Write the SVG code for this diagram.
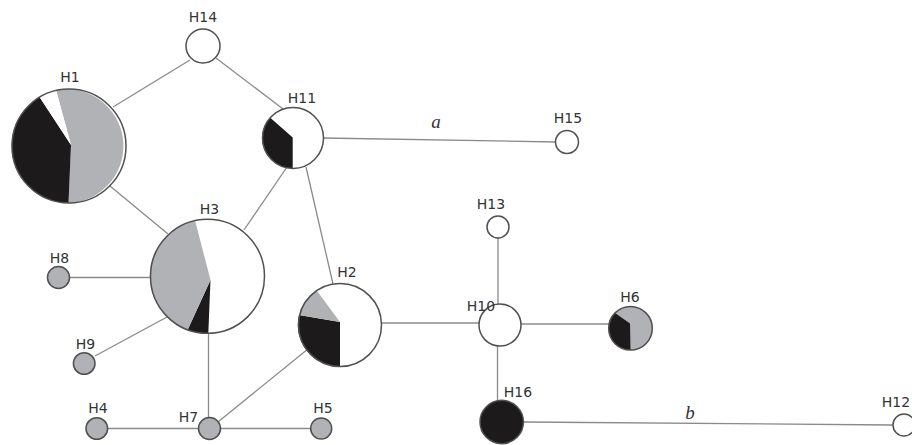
<svg xmlns="http://www.w3.org/2000/svg" width="912" height="445" viewBox="0 0 912 445">
<style>
.ln{stroke:#8a8a8a;stroke-width:1.3;fill:none}
.ol{fill:none;stroke:#505050;stroke-width:1.5}
.w{fill:#ffffff}
.g{fill:#b1b2b5}
.k{fill:#1d1a1b}
.lb{font-family:"DejaVu Sans",Verdana,sans-serif;font-size:14px;fill:#333;text-anchor:middle}
.it{font-family:"Liberation Serif","Times New Roman",serif;font-style:italic;font-size:19px;fill:#333;text-anchor:middle}
</style>
<rect width="912" height="445" fill="#ffffff"/>
<g id="connectors">
<line class="ln" x1="113" y1="107" x2="190" y2="60"/>
<line class="ln" x1="216" y1="58" x2="283" y2="109"/>
<line class="ln" x1="110" y1="186" x2="168" y2="234"/>
<line class="ln" x1="287" y1="167" x2="244" y2="230"/>
<line class="ln" x1="306" y1="167" x2="333" y2="284"/>
<line class="ln" x1="323" y1="138" x2="556" y2="142"/>
<line class="ln" x1="69" y1="277.5" x2="151" y2="277.5"/>
<line class="ln" x1="95" y1="356" x2="167" y2="317"/>
<line class="ln" x1="208.5" y1="333" x2="208.5" y2="417"/>
<line class="ln" x1="216.7" y1="423" x2="307" y2="349.7"/>
<line class="ln" x1="381" y1="323" x2="479" y2="323"/>
<line class="ln" x1="498" y1="238" x2="498" y2="304"/>
<line class="ln" x1="521" y1="324" x2="609" y2="324"/>
<line class="ln" x1="497.5" y1="346" x2="497.5" y2="400"/>
<line class="ln" x1="523" y1="422" x2="893" y2="425"/>
<line class="ln" x1="107.5" y1="428.5" x2="198.5" y2="428.5"/>
<line class="ln" x1="220.5" y1="428.5" x2="310.5" y2="428.5"/>
<text class="it" x="436" y="128">a</text>
<text class="it" x="690" y="419">b</text>
</g>
<g id="H1">
<path class="g" d="M71 145 L56 90 A57 57 0 1 1 68.5 203 Z"/>
<path class="k" d="M71 145 L68.5 203 A57 57 0 0 1 39.5 97 Z"/>
<path class="w" d="M71 145 L39.5 97 A57 57 0 0 1 56 90 Z"/>
<circle class="ol" cx="69" cy="146" r="57"/>
<text class="lb" x="70" y="82">H1</text>
</g>
<g id="H14">
<circle class="w" cx="203" cy="46" r="17"/>
<circle class="ol" cx="203" cy="46" r="17"/>
<text class="lb" x="203" y="22">H14</text>
</g>
<g id="H11">
<circle class="w" cx="293" cy="138" r="30.5"/>
<path class="k" d="M292.7 137.5 L292.7 168.5 A30.5 30.5 0 0 1 270 117.6 Z"/>
<circle class="ol" cx="293" cy="138" r="30.5"/>
<text class="lb" x="302" y="103">H11</text>
</g>
<g id="H15">
<circle class="w" cx="567" cy="142" r="11.5"/>
<circle class="ol" cx="567" cy="142" r="11.5"/>
<text class="lb" x="568" y="123">H15</text>
</g>
<g id="H3">
<path class="w" d="M210.5 280 L195 220.3 A57 57 0 1 1 208.3 333.3 Z"/>
<path class="k" d="M210.5 280 L208.3 333.3 A57 57 0 0 1 187.7 329.8 Z"/>
<path class="g" d="M210.5 280 L187.7 329.8 A57 57 0 0 1 195 220.3 Z"/>
<circle class="ol" cx="207.5" cy="276.3" r="57"/>
<text class="lb" x="209.5" y="214">H3</text>
</g>
<g id="H8">
<circle class="g" cx="58.5" cy="277.5" r="11"/>
<circle class="ol" cx="58.5" cy="277.5" r="11"/>
<text class="lb" x="59.5" y="263">H8</text>
</g>
<g id="H9">
<circle class="g" cx="84.2" cy="363.5" r="10.8"/>
<circle class="ol" cx="84.2" cy="363.5" r="10.8"/>
<text class="lb" x="85.5" y="349">H9</text>
</g>
<g id="H2">
<path class="w" d="M340 322 L316.7 290.6 A41.5 41.5 0 1 1 340 366.5 Z"/>
<path class="k" d="M340 322 L340 366.5 A41.5 41.5 0 0 1 299 315 Z"/>
<path class="g" d="M340 322 L299 315 A41.5 41.5 0 0 1 316.7 290.6 Z"/>
<circle class="ol" cx="340" cy="325" r="41.5"/>
<text class="lb" x="347" y="277">H2</text>
</g>
<g id="H4">
<circle class="g" cx="96.8" cy="428.5" r="10.8"/>
<circle class="ol" cx="96.8" cy="428.5" r="10.8"/>
<text class="lb" x="98" y="413">H4</text>
</g>
<g id="H7">
<circle class="g" cx="209.5" cy="428.5" r="11"/>
<circle class="ol" cx="209.5" cy="428.5" r="11"/>
<text class="lb" x="188.5" y="421.5">H7</text>
</g>
<g id="H5">
<circle class="g" cx="321.2" cy="428.5" r="10.5"/>
<circle class="ol" cx="321.2" cy="428.5" r="10.5"/>
<text class="lb" x="323" y="413">H5</text>
</g>
<g id="H13">
<circle class="w" cx="498" cy="227" r="11"/>
<circle class="ol" cx="498" cy="227" r="11"/>
<text class="lb" x="491" y="209">H13</text>
</g>
<g id="H10">
<circle class="w" cx="500" cy="325" r="21"/>
<circle class="ol" cx="500" cy="325" r="21"/>
<text class="lb" x="481" y="311">H10</text>
</g>
<g id="H6">
<circle class="g" cx="630.5" cy="328.3" r="21.8"/>
<path class="k" d="M630 323.5 L630.5 350.1 A21.8 21.8 0 0 1 615 313 Z"/>
<circle class="ol" cx="630.5" cy="328.3" r="21.8"/>
<text class="lb" x="630" y="302">H6</text>
</g>
<g id="H16">
<circle class="k" cx="501.7" cy="422" r="21.7"/>
<circle class="ol" cx="501.7" cy="422" r="21.7"/>
<text class="lb" x="518" y="397">H16</text>
</g>
<g id="H12">
<circle class="w" cx="904" cy="425" r="11"/>
<circle class="ol" cx="904" cy="425" r="11"/>
<text class="lb" x="896" y="407">H12</text>
</g>
</svg>
